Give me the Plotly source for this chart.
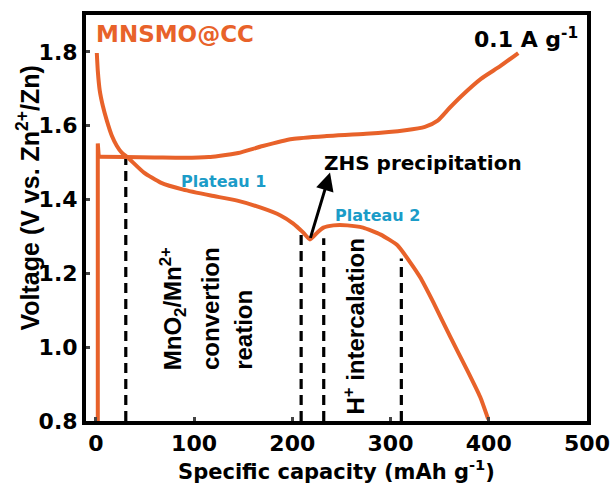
import plotly.graph_objects as go

# Discharge curve (starts at 1.8 V)
dis_x = [1, 2, 4, 7.1, 11.2, 16.3, 21.3, 26.4, 32.5, 49, 66, 89, 117, 144, 168, 188, 201, 211, 218,
         225.6, 231.7, 242, 256, 272, 290, 307, 320, 330, 343.5, 361, 378, 391.3, 399.4]
dis_y = [1.797, 1.749, 1.695, 1.654, 1.614, 1.573, 1.546, 1.527, 1.514, 1.473, 1.446, 1.427, 1.411,
         1.397, 1.378, 1.357, 1.335, 1.311, 1.292, 1.311, 1.324, 1.330, 1.330, 1.324, 1.305, 1.276,
         1.23, 1.19, 1.122, 1.027, 0.938, 0.865, 0.805]

# Charge curve: initial spike, then plateau and rise
spike_x = [2, 2, 3]
spike_y = [0.8, 1.552, 1.516]
chg_x = [3, 30, 60, 90, 115, 125, 145, 170, 200, 235, 275, 315, 335, 348, 360, 372, 392, 412, 430]
chg_y = [1.516, 1.515, 1.514, 1.513, 1.515, 1.518, 1.526, 1.545, 1.564, 1.572, 1.578,
         1.588, 1.597, 1.614, 1.648, 1.68, 1.727, 1.762, 1.797]

# Dashed guide lines: x position and top voltage
guide_x = [30.5, 209, 232, 311]
guide_top = [1.515, 1.316, 1.295, 1.24]

x_ticks = [0, 100, 200, 300, 400, 500]
y_ticks = [0.8, 1.0, 1.2, 1.4, 1.6, 1.8]

ORANGE = "#E8622A"
TEAL = "#1B9CC8"
WIDE = "DejaVu Sans, sans-serif"
NARROW = "Liberation Sans, Arial, sans-serif"

fig = go.Figure()
for gx, gt in zip(guide_x, guide_top):
    fig.add_trace(go.Scatter(x=[gx, gx], y=[0.8, gt], mode="lines",
                             line=dict(color="black", width=3.2, dash="10px,6px"),
                             showlegend=False, hoverinfo="skip"))
fig.add_trace(go.Scatter(x=spike_x, y=spike_y, mode="lines",
                         line=dict(color=ORANGE, width=4), showlegend=False))
fig.add_trace(go.Scatter(x=chg_x, y=chg_y, mode="lines",
                         line=dict(color=ORANGE, width=4, shape="spline", smoothing=0.6),
                         showlegend=False))
fig.add_trace(go.Scatter(x=dis_x, y=dis_y, mode="lines",
                         line=dict(color=ORANGE, width=4, shape="spline", smoothing=0.5),
                         showlegend=False))


def bf(size, family=WIDE, color="black"):
    return dict(size=size, family=family, weight="bold", color=color)


fig.update_layout(
    width=610, height=490,
    margin=dict(l=86, r=23, t=15, b=69),
    plot_bgcolor="white", paper_bgcolor="white",
    font=bf(22),
    xaxis=dict(range=[-10, 500], tickvals=x_ticks, ticks="inside", ticklen=4, tickwidth=3,
               showline=True, linewidth=4, linecolor="black", mirror=True, showgrid=False,
               zeroline=False, tickfont=bf(22), automargin=False,
               title=dict(text="Specific capacity (mAh g<sup>-1</sup>)", font=bf(21), standoff=2)),
    yaxis=dict(range=[0.8, 1.9], tickvals=y_ticks, tickformat=".1f", ticks="inside", ticklen=4,
               tickwidth=3, showline=True, linewidth=4, linecolor="black", mirror=True,
               showgrid=False, zeroline=False, tickfont=bf(22), automargin=False),
)

ann = []
ann.append(dict(x=-0.115, y=0.549, xref="paper", yref="paper", text="Voltage (V vs. Zn<sup>2+</sup>/Zn)",
                showarrow=False, textangle=-90, xanchor="center", yanchor="middle", font=bf(25, NARROW)))
ann.append(dict(x=-2, y=1.849, xref="x", yref="y", text="MNSMO@CC", showarrow=False,
                xanchor="left", yanchor="middle", font=bf(23, color=ORANGE)))
ann.append(dict(x=493, y=1.838, xref="x", yref="y", text="0.1 A g<sup>-1</sup>", showarrow=False,
                xanchor="right", yanchor="middle", font=bf(22)))
ann.append(dict(x=333, y=1.50, xref="x", yref="y", text="ZHS precipitation", showarrow=False,
                xanchor="center", yanchor="middle", font=bf(20)))
ann.append(dict(x=130, y=1.449, xref="x", yref="y", text="Plateau 1", showarrow=False,
                xanchor="center", yanchor="middle", font=bf(16, color=TEAL)))
ann.append(dict(x=286.6, y=1.357, xref="x", yref="y", text="Plateau 2", showarrow=False,
                xanchor="center", yanchor="middle", font=bf(16, color=TEAL)))
ann.append(dict(x=238.4, y=1.473, ax=218, ay=1.292, xref="x", yref="y", axref="x", ayref="y",
                text="", showarrow=True, arrowhead=2, arrowsize=1.2, arrowwidth=3, arrowcolor="black"))
for txt, xv in [("MnO<sub>2</sub>/Mn<sup>2+</sup>", 78), ("convertion", 117.5), ("reation", 150.4)]:
    ann.append(dict(x=xv, y=0.932, xref="x", yref="y", text=txt, showarrow=False,
                    textangle=-90, xanchor="center", yanchor="bottom", font=bf(24, NARROW)))
ann.append(dict(x=263, y=0.811, xref="x", yref="y", text="H<sup>+</sup> intercalation", showarrow=False,
                textangle=-90, xanchor="center", yanchor="bottom", font=bf(24, NARROW)))
fig.update_layout(annotations=ann)

fig.write_html("out.html")
